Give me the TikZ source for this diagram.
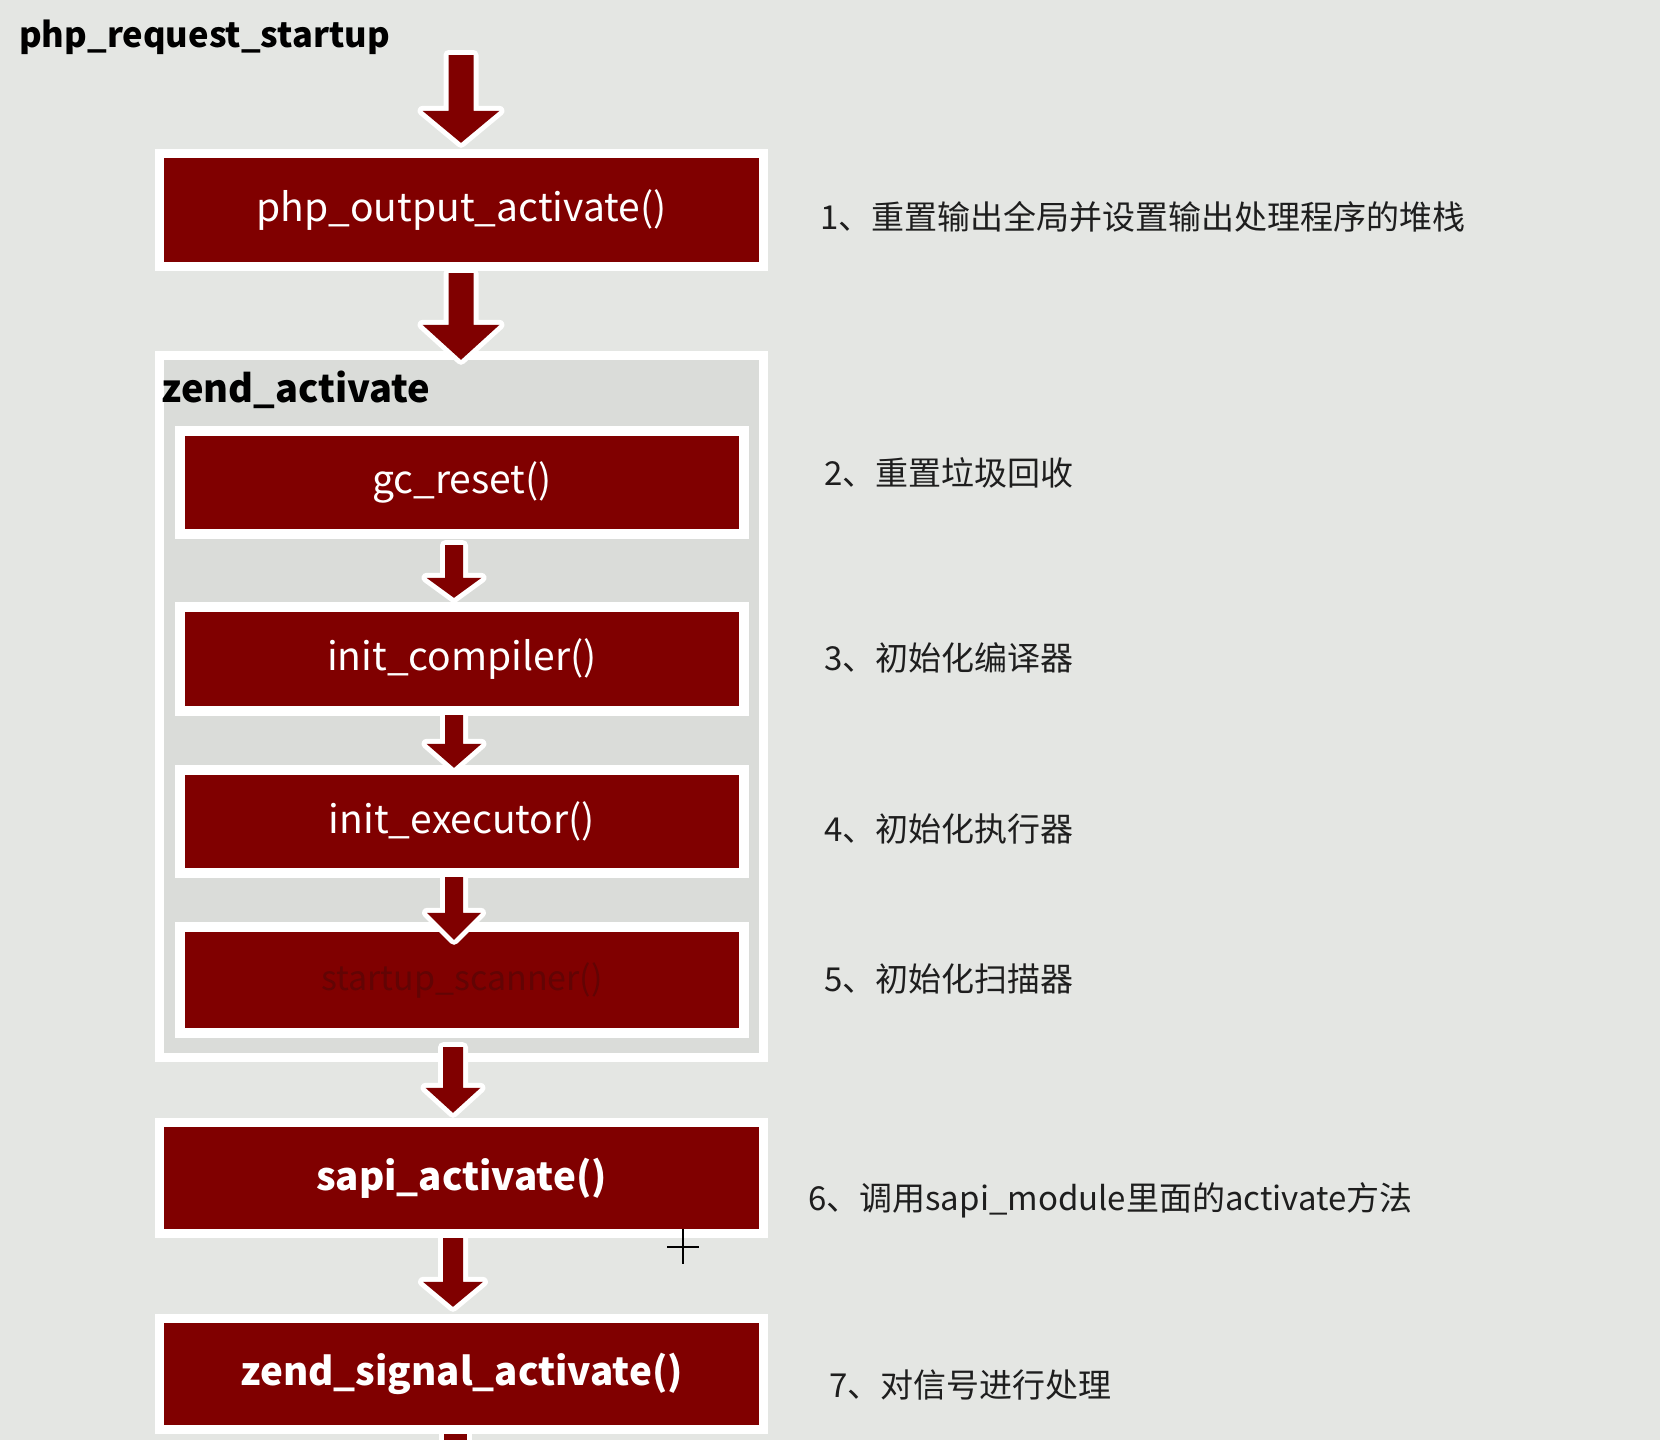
\documentclass[tikz,border=0pt]{standalone}
\usepackage{fontspec}
\setmainfont{Noto Sans CJK SC}
\usetikzlibrary{calc}
\definecolor{bg}{RGB}{228,230,227}
\definecolor{cont}{RGB}{218,220,217}
\definecolor{boxred}{RGB}{128,0,0}
\definecolor{dimtext}{RGB}{98,4,4}
\definecolor{labtext}{RGB}{30,30,30}
\tikzset{
  redbox/.style={rectangle, inner sep=0pt, fill=boxred, text=white,
    preaction={draw=white, line width=#1}, font=\fontsize{39}{43}\selectfont},
  redbox/.default=18pt,
  boldbox/.style={redbox, font=\fontsize{38.5}{42}\selectfont\bfseries},
  container/.style={rectangle, inner sep=0pt, fill=cont, preaction={draw=white, line width=18pt}},
  heading/.style={anchor=west, inner sep=0pt, text=black, font=\fontsize{34.5}{38}\selectfont\bfseries},
  note/.style={anchor=west, inner sep=0pt, text=labtext, font=\fontsize{33}{37}\selectfont},
  barrow/.style={fill=boxred, preaction={draw=white, line width=10pt, line join=round}},
}
% #1 start point, #2 tip point, #3 shaft half width, #4 head half width, #5 head length
\newcommand\blockarrow[5]{%
  \path[barrow] let \p1=#1, \p2=#2 in
    (\x1-#3,\y1) -- (\x1+#3,\y1) -- (\x1+#3,\y2+#5) -- (\x1+#4,\y2+#5) --
    (\x1,\y2) -- (\x1-#4,\y2+#5) -- (\x1-#3,\y2+#5) -- cycle;}
\begin{document}
\begin{tikzpicture}[x=1pt,y=-1pt]
\useasboundingbox (0,0) rectangle (1660,1440);
\clip (0,0) rectangle (1660,1440);
\fill[bg] (0,0) rectangle (1660,1440);

\node[heading] (title) at (19,37) {php\_request\_startup};

\node[redbox, minimum width=595pt, minimum height=104pt] (out) at (461.5,210) {php\_output\_activate()};

\node[container, minimum width=595pt, minimum height=693pt] (zend) at (461.5,706.5) {};
\node[heading, font=\fontsize{38}{42}\selectfont\bfseries] (zlabel) at (161,390) {zend\_activate};

\node[redbox=20pt, minimum width=554pt, minimum height=93pt] (gc) at (462,482.5) {gc\_reset()};
\node[redbox=20pt, minimum width=554pt, minimum height=94pt] (comp) at (462,659) {init\_compiler()};
\node[redbox=20pt, minimum width=554pt, minimum height=93pt] (exec) at (462,821.5) {init\_executor()};
\node[redbox=20pt, minimum width=554pt, minimum height=96pt, text=dimtext, font=\fontsize{34}{38}\selectfont] (scan) at (462,980) {startup\_scanner()};

\node[boldbox, minimum width=595pt, minimum height=102pt] (sapi) at (461.5,1178) {sapi\_activate()};
\node[boldbox, minimum width=595pt, minimum height=102pt] (sig) at (461.5,1374) {zend\_signal\_activate()};

% connectors
\coordinate (start) at (461,55);
\blockarrow{(start)}{($(out.north)+(-0.5,-15)$)}{12.5pt}{38.5pt}{32pt}
\blockarrow{($(out.south)+(-0.5,11)$)}{($(zend.north)+(-0.5,0)$)}{12.5pt}{38.5pt}{35pt}
\blockarrow{($(gc.south)+(-8,16)$)}{($(comp.north)+(-8,-14)$)}{9pt}{27.5pt}{20pt}
\blockarrow{($(comp.south)+(-8,9)$)}{($(exec.north)+(-8,-7)$)}{9pt}{27.5pt}{24pt}
\blockarrow{($(exec.south)+(-8,9)$)}{($(scan.north)+(-8,8)$)}{9pt}{27pt}{27pt}
\blockarrow{($(zend.south)+(-8.5,-6)$)}{($(sapi.north)+(-8.5,-14)$)}{10pt}{27.5pt}{25pt}
\blockarrow{($(sapi.south)+(-8.5,9)$)}{($(sig.north)+(-8.5,-16)$)}{10pt}{30pt}{25pt}
\coordinate (more) at (455.5,1460);
\path[barrow] ($(sig.south)+(-17.5,9)$) rectangle ($(more)+(11.5,0)$);

% notes
\node[note] (n1) at (820,217) {1、重置输出全局并设置输出处理程序的堆栈};
\node[note] (n2) at (824,473) {2、重置垃圾回收};
\node[note] (n3) at (824,658) {3、初始化编译器};
\node[note] (n4) at (824,829) {4、初始化执行器};
\node[note] (n5) at (824,979) {5、初始化扫描器};
\node[note] (n6) at (808,1200) {6、调用sapi\_module里面的activate方法};
\node[note] (n7) at (829,1385) {7、对信号进行处理};

% mouse cursor
\draw[black, line width=1.5pt] (667,1247) -- (699,1247) (683,1229) -- (683,1264);
\end{tikzpicture}
\end{document}
